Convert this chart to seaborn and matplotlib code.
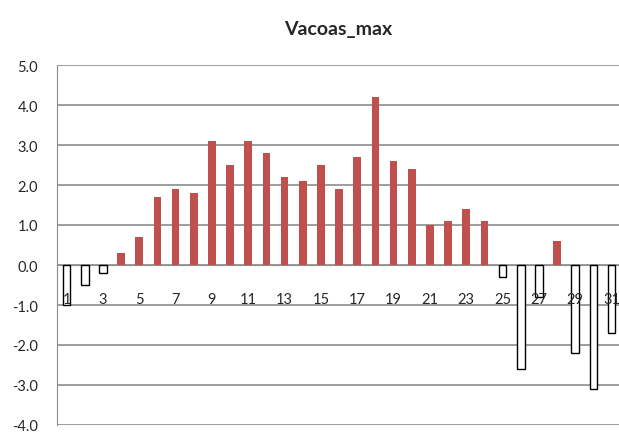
import numpy as np
import pandas as pd
import matplotlib
matplotlib.use("Agg")
import matplotlib.pyplot as plt
import seaborn as sns

# data
days = list(range(1, 32))
values = [-1.0, -0.5, -0.2, 0.3, 0.7, 1.7, 1.9, 1.8, 3.1, 2.5,
          3.1, 2.8, 2.2, 2.1, 2.5, 1.9, 2.7, 4.2, 2.6, 2.4,
          1.0, 1.1, 1.4, 1.1, -0.3, -2.6, -0.8, 0.6, -2.2, -3.1, -1.7]
y_ticks = [-4.0, -3.0, -2.0, -1.0, 0.0, 1.0, 2.0, 3.0, 4.0, 5.0]
title = "Vacoas_max"

RED = "#C0504D"
GRID = "#8C8C8C"

sns.set_style("white")
plt.rcParams["font.family"] = ["Lato", "DejaVu Sans"]

df = pd.DataFrame({"day": days, "value": values})
df["sign"] = np.where(df["value"] >= 0, "pos", "neg")

fig = plt.figure(figsize=(6.19, 4.35), dpi=100)
ax = fig.add_axes([57.5 / 619, 9 / 435, (619 - 57.5) / 619, 360 / 435])

sns.barplot(data=df, x="day", y="value", hue="sign", dodge=False,
            palette={"pos": RED, "neg": "white"}, width=0.42,
            saturation=1, legend=False, ax=ax, zorder=3)

for p in ax.patches:
    if p.get_height() < 0:
        p.set_edgecolor("black")
        p.set_linewidth(1.0)
    else:
        p.set_edgecolor(RED)
        p.set_linewidth(0)

ax.set_ylim(-4.0, 5.0)
ax.set_xlim(-0.5, 30.41)
ax.set_yticks(y_ticks)
ax.set_yticklabels([f"{v:.1f}" for v in y_ticks], fontsize=10.5)
ax.yaxis.grid(True, color=GRID, linewidth=1.2, zorder=0)
ax.set_axisbelow(True)

# x axis sits at zero, labels every other day drawn on top of the bars
ax.spines["bottom"].set_position(("data", 0))
ax.spines["bottom"].set_color(GRID)
ax.spines["left"].set_color(GRID)
ax.spines["top"].set_visible(False)
ax.spines["right"].set_visible(False)

ax.set_xticks(range(0, 31, 2))
ax.set_xticklabels([])
ax.set_xticks(np.arange(0.5, 30.5, 1.0), minor=True)
ax.tick_params(axis="x", which="major", length=0)
ax.tick_params(axis="x", which="minor", length=4.5, color=GRID, direction="out")
ax.tick_params(axis="y", which="major", length=4, color=GRID, direction="out", pad=10)
ax.set_xlabel("")
ax.set_ylabel("")

for i, d in enumerate(days):
    if d % 2 == 1:
        ax.text(i, -0.85, str(d), ha="center", va="center", fontsize=10.5,
                zorder=6, clip_on=False)

fig.text(338 / 619, 1 - 30 / 435, title, ha="center", va="center",
         fontsize=14, fontweight="bold")

fig.savefig("out.png", dpi=100)
